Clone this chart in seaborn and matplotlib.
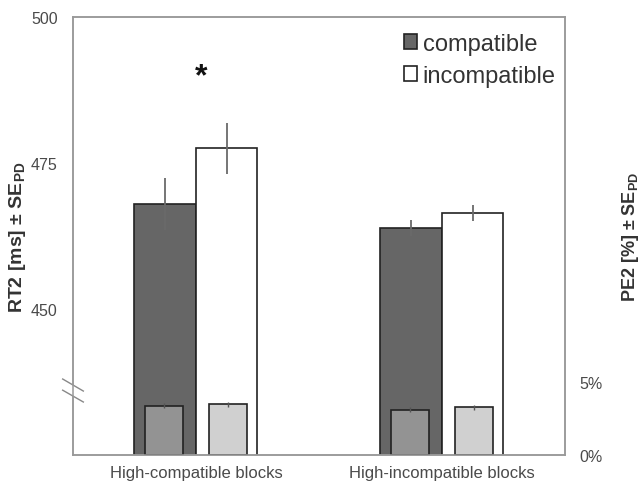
import matplotlib
matplotlib.use("Agg")
import matplotlib.pyplot as plt
import seaborn as sns
import pandas as pd

# ---- data ----
blocks = ["High-compatible blocks", "High-incompatible blocks"]
conditions = ["compatible", "incompatible"]
rt_compatible = [468.0, 463.9]
rt_incompatible = [477.5, 466.4]
rt_se_compatible = [4.4, 1.4]
rt_se_incompatible = [4.4, 1.4]
pe_compatible = [3.38, 3.10]
pe_incompatible = [3.47, 3.27]
pe_se_compatible = [0.17, 0.17]
pe_se_incompatible = [0.17, 0.17]
rt_ticks = [450, 475, 500]
pe_ticks = [0, 5]
pe_tick_labels = ["0%", "5%"]

plt.rcParams["font.family"] = ["Liberation Sans", "DejaVu Sans"]
plt.rcParams["mathtext.fontset"] = "custom"
plt.rcParams["mathtext.rm"] = "Liberation Sans"
plt.rcParams["mathtext.bf"] = "Liberation Sans:bold"

rt_df = pd.DataFrame({
    "block": blocks * 2,
    "condition": [conditions[0]] * 2 + [conditions[1]] * 2,
    "rt": rt_compatible + rt_incompatible,
})
pe_df = pd.DataFrame({
    "block": blocks * 2,
    "condition": [conditions[0]] * 2 + [conditions[1]] * 2,
    "pe": pe_compatible + pe_incompatible,
})
rt_se = [rt_se_compatible, rt_se_incompatible]
pe_se = [pe_se_compatible, pe_se_incompatible]

fig = plt.figure(figsize=(6.43, 4.85), dpi=100)
ax = fig.add_axes([0.11353, 0.05979, 0.76516, 0.90309])

sns.barplot(data=rt_df, x="block", y="rt", hue="condition", order=blocks,
            hue_order=conditions, palette={"compatible": "#666666", "incompatible": "#ffffff"},
            width=0.5, errorbar=None, edgecolor="#222222", linewidth=1.2,
            saturation=1, ax=ax, legend=True)
for cont, ses in zip(ax.containers, rt_se):
    for bar, se in zip(cont.patches, ses):
        xc = bar.get_x() + bar.get_width() / 2
        ax.errorbar(xc, bar.get_height(), yerr=se, fmt="none", ecolor="#6a6a6a",
                    elinewidth=1.3, capsize=0, zorder=5)

ax.set_xlim(-0.5, 1.5)
ax.set_ylim(425, 500)
ax.set_yticks(rt_ticks)
ax.set_xlabel("")
ax.set_ylabel(r"RT2 [ms] ± $\mathbf{SE}_\mathbf{PD}$", fontsize=14, fontweight="bold",
              color="#333333", labelpad=2)
ax.tick_params(axis="y", length=0, pad=11, labelsize=11.5, labelcolor="#4a4a4a")
ax.tick_params(axis="x", length=0, pad=7, labelsize=12, labelcolor="#4a4a4a")
for s in ax.spines.values():
    s.set_color("#999999")
    s.set_linewidth(1.1)

handles, labels = ax.get_legend_handles_labels()
ax.legend(handles, labels, loc="upper left", bbox_to_anchor=(0.672, 0.964), frameon=False,
          fontsize=17, handlelength=0.55, handleheight=0.55, handletextpad=0.25,
          labelspacing=0.43, borderpad=0, borderaxespad=0, labelcolor="#333333")

ax.text(0.02, 488.5, "*", ha="center", va="baseline", fontsize=23, fontweight="bold",
        color="#111111")

# axis break marks
from matplotlib.patches import Polygon
ax.add_patch(Polygon([(-0.021, 0.1735), (0.021, 0.146), (0.021, 0.121), (-0.021, 0.148)],
                     closed=True, transform=ax.transAxes, facecolor="white",
                     edgecolor="none", clip_on=False, zorder=10))
ax.plot([-0.021, 0.021], [0.1735, 0.146], transform=ax.transAxes, color="#888888",
        lw=1.0, clip_on=False, zorder=11)
ax.plot([-0.021, 0.021], [0.148, 0.121], transform=ax.transAxes, color="#888888",
        lw=1.0, clip_on=False, zorder=11)

ax2 = ax.twinx()
sns.barplot(data=pe_df, x="block", y="pe", hue="condition", order=blocks,
            hue_order=conditions, palette={"compatible": "#939393", "incompatible": "#d0d0d0"},
            width=0.52, gap=0.42, errorbar=None, edgecolor="#222222", linewidth=1.2,
            saturation=1, ax=ax2, legend=False)
for cont, ses in zip(ax2.containers, pe_se):
    for bar, se in zip(cont.patches, ses):
        xc = bar.get_x() + bar.get_width() / 2
        ax2.errorbar(xc, bar.get_height(), yerr=se, fmt="none", ecolor="#555555",
                     elinewidth=1.0, capsize=0, zorder=5)
ax2.set_xlim(-0.5, 1.5)
ax2.set_ylim(0, 30)
ax2.set_yticks(pe_ticks)
ax2.set_yticklabels(pe_tick_labels)
ax2.set_ylabel(r"PE2 [%] ± $\mathbf{SE}_\mathbf{PD}$", fontsize=13, fontweight="bold",
               color="#333333", rotation=90, labelpad=13)
ax2.tick_params(axis="y", length=0, pad=10, labelsize=11.5, labelcolor="#4a4a4a")
for s in ax2.spines.values():
    s.set_color("#999999")
    s.set_linewidth(1.1)

fig.savefig("out.png", dpi=100)
